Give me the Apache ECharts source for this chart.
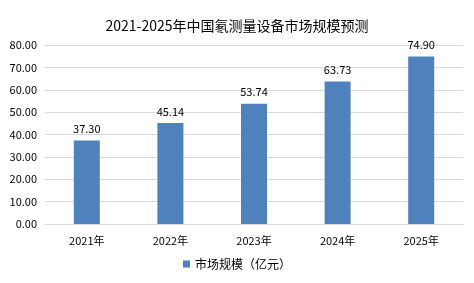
<!DOCTYPE html>
<html><head><meta charset="utf-8">
<script src="https://cdn.jsdelivr.net/npm/echarts@6/dist/echarts.min.js"></script>
<style>html,body{margin:0;padding:0;background:#fff}#c{width:474px;height:283px}</style>
</head><body><div id="c"></div>
<script>
const categories = ['2021年','2022年','2023年','2024年','2025年'];
const values = [37.30, 45.14, 53.74, 63.73, 74.90];
const seriesName = '市场规模（亿元）';
const titleText = '2021-2025年中国氡测量设备市场规模预测';
const font = '"Microsoft YaHei","Noto Sans CJK SC","DejaVu Sans",sans-serif';
const chart = echarts.init(document.getElementById('c'));
chart.setOption({
  animation:false,
  textStyle:{fontFamily:font},
  title:{text:titleText,left:'center',top:14,textStyle:{fontSize:14,fontWeight:'normal',color:'#000',fontFamily:font}},
  grid:{left:45,right:11,top:45,bottom:59,containLabel:false},
  legend:{bottom:8,left:'center',itemWidth:7,itemHeight:7,icon:'rect',itemGap:4,
    textStyle:{fontSize:12,color:'#000',fontFamily:font},data:[seriesName]},
  xAxis:{type:'category',data:categories,
    axisLine:{lineStyle:{color:'#d9d9d9'}},axisTick:{show:false},
    axisLabel:{fontSize:11,color:'#000',margin:11,fontFamily:font}},
  yAxis:{type:'value',min:0,max:80,interval:10,
    axisLine:{show:false},axisTick:{show:false},
    splitLine:{lineStyle:{color:'#d9d9d9'}},
    axisLabel:{fontSize:11,color:'#000',margin:8,formatter:v=>v.toFixed(2),fontFamily:font}},
  series:[{name:seriesName,type:'bar',data:values,barWidth:26,
    itemStyle:{color:'#4f81bd'},
    label:{show:true,position:'top',fontSize:11,color:'#000',formatter:p=>p.value.toFixed(2),distance:6}}]
});
</script></body></html>
